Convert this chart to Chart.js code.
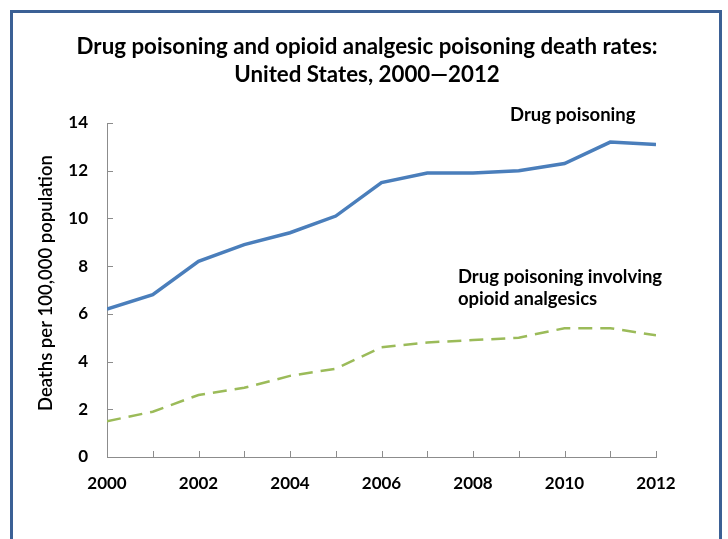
<!DOCTYPE html>
<html>
<head>
<meta charset="utf-8">
<script src="https://cdn.jsdelivr.net/npm/chart.js@4.4.1/dist/chart.umd.min.js"></script>
<style>
  html, body { margin: 0; padding: 0; background: #fff; overflow: hidden; }
  #wrap { position: relative; width: 728px; height: 539px; }
  #frame { position: absolute; left: 10px; top: 10px; width: 712px; height: 600px; border: 3px solid #3b6095; box-sizing: border-box; pointer-events: none; }
  canvas { position: absolute; left: 0; top: 0; }
</style>
</head>
<body>
<div id="wrap">
  <canvas id="chart" width="728" height="539"></canvas>
  <div id="frame"></div>
</div>
<script>
// data
const years = [2000, 2001, 2002, 2003, 2004, 2005, 2006, 2007, 2008, 2009, 2010, 2011, 2012];
const drugPoisoning = [6.2, 6.8, 8.2, 8.9, 9.4, 10.1, 11.5, 11.9, 11.9, 12.0, 12.3, 13.2, 13.1];
const opioidPoisoning = [1.5, 1.9, 2.6, 2.9, 3.4, 3.7, 4.6, 4.8, 4.9, 5.0, 5.4, 5.4, 5.1];
const titleLines = ['Drug poisoning and opioid analgesic poisoning death rates:', 'United States, 2000\u20142012'];
const yTitle = 'Deaths per 100,000 population';

// text labels placed in data coordinates
const notes = [
    { text: 'Drug poisoning', x: 2008.81, y: 14.33 },
    { text: 'Drug poisoning involving', x: 2007.67, y: 7.54 },
    { text: 'opioid analgesics', x: 2007.67, y: 6.62 }
];

const FONT = 'Lato, "Open Sans", sans-serif';

// small inward tick marks like the original Excel chart
const innerTicks = {
    id: 'innerTicks',
    afterDraw(chart) {
        const ctx = chart.ctx;
        const xs = chart.scales.x, ys = chart.scales.y;
        ctx.save();
        ctx.strokeStyle = '#8c8c8c';
        ctx.lineWidth = 1;
        ctx.beginPath();
        xs.ticks.forEach(t => {
            const px = Math.round(xs.getPixelForValue(t.value)) + 0.5;
            ctx.moveTo(px, xs.top);
            ctx.lineTo(px, xs.top - 6);
        });
        ys.ticks.forEach(t => {
            const py = Math.round(ys.getPixelForValue(t.value)) + 0.5;
            ctx.moveTo(ys.right, py);
            ctx.lineTo(ys.right + 6, py);
        });
        ctx.stroke();
        ctx.restore();
    }
};

// title (centred in the frame), y-axis title and the two series labels
const texts = {
    id: 'texts',
    afterDraw(chart) {
        const ctx = chart.ctx;
        const xs = chart.scales.x, ys = chart.scales.y;
        ctx.save();
        ctx.fillStyle = '#000';
        ctx.textBaseline = 'middle';

        ctx.textAlign = 'center';
        ctx.font = 'bold 22.3px ' + FONT;
        ctx.fillText(titleLines[0], 367, 47);
        ctx.fillText(titleLines[1], 367, 75);

        ctx.save();
        ctx.translate(46, 283);
        ctx.rotate(-Math.PI / 2);
        ctx.font = '600 18.5px ' + FONT;
        ctx.fillText(yTitle, 0, 0);
        ctx.restore();

        ctx.textAlign = 'left';
        ctx.font = 'bold 18.5px ' + FONT;
        notes.forEach(n => {
            ctx.fillText(n.text, xs.getPixelForValue(n.x), ys.getPixelForValue(n.y));
        });
        ctx.restore();
    }
};

new Chart(document.getElementById('chart').getContext('2d'), {
    type: 'line',
    data: {
        datasets: [
            {
                label: 'Drug poisoning',
                data: years.map((yr, i) => ({ x: yr, y: drugPoisoning[i] })),
                borderColor: '#4a7ebb',
                borderWidth: 3.5,
                pointRadius: 0,
                tension: 0
            },
            {
                label: 'Drug poisoning involving opioid analgesics',
                data: years.map((yr, i) => ({ x: yr, y: opioidPoisoning[i] })),
                borderColor: '#9bbb59',
                borderWidth: 2.5,
                borderDash: [14, 8],
                pointRadius: 0,
                tension: 0
            }
        ]
    },
    options: {
        responsive: false,
        animation: false,
        layout: { padding: { left: 0, right: 72, top: 123, bottom: 0 } },
        plugins: {
            legend: { display: false },
            tooltip: { enabled: false },
            title: { display: false }
        },
        scales: {
            x: {
                type: 'linear',
                min: 2000,
                max: 2012,
                grid: { display: true, drawOnChartArea: false, drawTicks: false },
                border: { display: true, color: '#8c8c8c', width: 1 },
                ticks: {
                    stepSize: 1,
                    autoSkip: false,
                    maxRotation: 0,
                    padding: 16,
                    color: '#000',
                    font: { family: FONT, size: 17, weight: 'bold' },
                    callback: v => (v % 2 === 0 ? String(v) : '')
                },
                afterFit: s => { s.height = 82; }
            },
            y: {
                min: 0,
                max: 14,
                grid: { display: true, drawOnChartArea: false, drawTicks: false },
                border: { display: true, color: '#8c8c8c', width: 1 },
                ticks: {
                    stepSize: 2,
                    padding: 19,
                    color: '#000',
                    font: { family: FONT, size: 17, weight: 'bold' }
                },
                afterFit: s => { s.width = 107; }
            }
        }
    },
    plugins: [innerTicks, texts]
});
</script>
</body>
</html>
